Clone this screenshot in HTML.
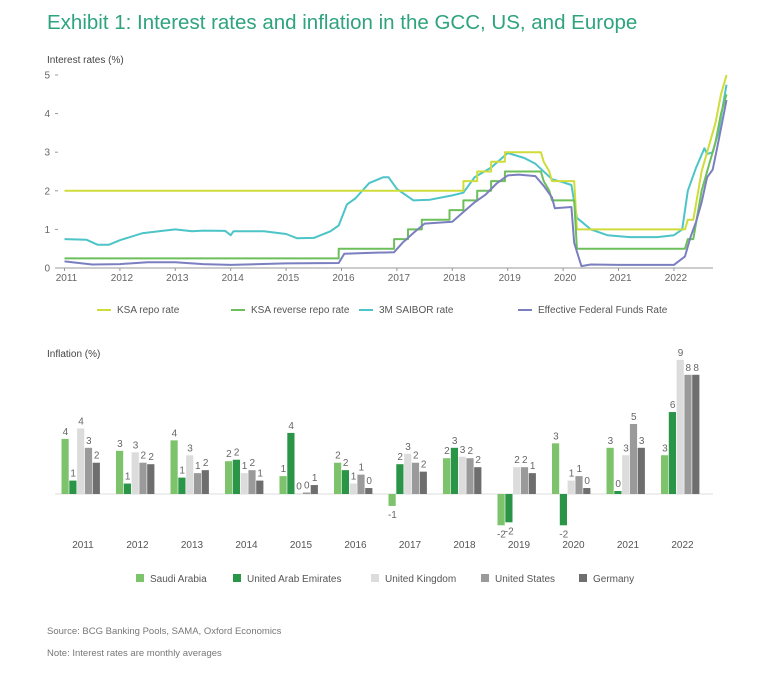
<!DOCTYPE html>
<html><head><meta charset="utf-8">
<style>
body{margin:0;background:#fff;width:768px;height:677px;overflow:hidden;font-family:"Liberation Sans",sans-serif;}
svg{position:absolute;left:0;top:0}
</style></head>
<body>
<svg width="768" height="677">
<text x="47" y="29" font-size="20.5" fill="#2ea37e">Exhibit 1: Interest rates and inflation in the GCC, US, and Europe</text>
<text x="47" y="63" font-size="10" fill="#444">Interest rates (%)</text>
<g id="topg"></g>
<g font-size="10" fill="#555">
<line x1="97" y1="310" x2="111" y2="310" stroke="#cfdc3a" stroke-width="2"/><text x="117" y="313">KSA repo rate</text>
<line x1="231" y1="310" x2="245" y2="310" stroke="#6cbf5a" stroke-width="2"/><text x="251" y="313">KSA reverse repo rate</text>
<line x1="359" y1="310" x2="373" y2="310" stroke="#4cc4c8" stroke-width="2"/><text x="379" y="313">3M SAIBOR rate</text>
<line x1="518" y1="310" x2="532" y2="310" stroke="#7b7fc0" stroke-width="2"/><text x="538" y="313">Effective Federal Funds Rate</text>
</g>
<text x="47" y="357" font-size="10" fill="#444">Inflation (%)</text>
<g id="bot"></g>
<g font-size="10" fill="#555">
<rect x="136" y="574" width="8" height="8" fill="#7dc36b"/><text x="150" y="582">Saudi Arabia</text>
<rect x="233" y="574" width="8" height="8" fill="#2a9447"/><text x="247" y="582">United Arab Emirates</text>
<rect x="371" y="574" width="8" height="8" fill="#dcdcdc"/><text x="385" y="582">United Kingdom</text>
<rect x="481" y="574" width="8" height="8" fill="#9a9a9a"/><text x="495" y="582">United States</text>
<rect x="579" y="574" width="8" height="8" fill="#6e6e6e"/><text x="593" y="582">Germany</text>
</g>
<text x="47" y="634" font-size="9.5" fill="#777">Source: BCG Banking Pools, SAMA, Oxford Economics</text>
<text x="47" y="656" font-size="9.5" fill="#777">Note: Interest rates are monthly averages</text>
</svg>
<script>
// ---- interest rate data ----
const repoT=[2011,2018.2,2018.2,2018.45,2018.45,2018.7,2018.7,2018.95,2018.95,2019.6,2019.65,2019.75,2019.8,2020.2,2020.22,2020.25,2022.2,2022.25,2022.35,2022.5,2022.6,2022.75,2022.85,2022.95];
const repoV=[2,2,2.25,2.25,2.5,2.5,2.75,2.75,3,3,2.75,2.5,2.25,2.25,1.75,1,1,1.25,1.25,2.5,3,3.75,4.5,5];
const revT=[2011,2015.95,2015.95,2016.95,2016.95,2017.2,2017.2,2017.45,2017.45,2017.95,2017.95,2018.2,2018.2,2018.45,2018.45,2018.7,2018.7,2018.95,2018.95,2019.6,2019.65,2019.75,2019.8,2020.2,2020.25,2022.2,2022.25,2022.35,2022.5,2022.6,2022.75,2022.85,2022.95];
const revV=[0.25,0.25,0.5,0.5,0.75,0.75,1,1,1.25,1.25,1.5,1.5,1.75,1.75,2,2,2.25,2.25,2.5,2.5,2.25,2,1.75,1.75,0.5,0.5,0.75,0.75,2,2.5,3.25,4,4.5];
const saiT=[2011,2011.4,2011.6,2011.8,2012,2012.4,2012.8,2013,2013.3,2013.5,2013.9,2014,2014.05,2014.6,2015,2015.2,2015.5,2015.8,2015.95,2016.1,2016.25,2016.5,2016.75,2016.85,2017,2017.15,2017.3,2017.6,2018,2018.2,2018.4,2018.7,2019,2019.3,2019.5,2019.8,2020,2020.15,2020.25,2020.5,2020.8,2021.2,2021.7,2022.0,2022.15,2022.25,2022.4,2022.55,2022.6,2022.7,2022.8,2022.95];
const saiV=[0.75,0.73,0.6,0.6,0.72,0.9,0.97,1.0,0.95,0.97,0.96,0.85,0.95,0.95,0.88,0.77,0.78,0.95,1.1,1.65,1.8,2.2,2.35,2.35,2.05,1.9,1.75,1.77,1.88,1.95,2.35,2.6,2.98,2.85,2.7,2.3,2.22,2.15,1.3,1.0,0.85,0.8,0.8,0.85,1.0,2.0,2.6,3.1,2.95,3.0,3.5,4.75];
const fedT=[2011,2011.5,2012,2012.5,2013,2013.5,2014,2015,2015.95,2016.05,2016.5,2016.95,2017.1,2017.3,2017.5,2018,2018.2,2018.4,2018.6,2018.8,2019,2019.2,2019.5,2019.65,2019.8,2019.85,2020.15,2020.2,2020.33,2020.5,2021,2021.5,2022,2022.2,2022.3,2022.4,2022.5,2022.6,2022.7,2022.8,2022.95];
const fedV=[0.17,0.09,0.1,0.15,0.15,0.1,0.08,0.12,0.13,0.37,0.39,0.41,0.65,0.91,1.15,1.2,1.45,1.7,1.9,2.19,2.4,2.42,2.38,2.13,1.83,1.55,1.58,0.65,0.05,0.09,0.08,0.08,0.08,0.3,0.8,1.2,1.7,2.35,2.55,3.25,4.35];
const yTicks=[0,1,2,3,4,5];
const years=[2011,2012,2013,2014,2015,2016,2017,2018,2019,2020,2021,2022];
// ---- inflation data ----
const countries=["Saudi Arabia","United Arab Emirates","United Kingdom","United States","Germany"];
const saudi=[3.7,2.9,3.6,2.2,1.2,2.1,-0.8,2.4,-2.1,3.4,3.1,2.6];
const uae=[0.9,0.7,1.1,2.3,4.1,1.6,2.0,3.1,-1.9,-2.1,0.2,5.5];
const uk=[4.4,2.8,2.6,1.4,0.05,0.7,2.7,2.5,1.8,0.9,2.6,9.0];
const us=[3.1,2.1,1.4,1.6,0.1,1.3,2.1,2.4,1.8,1.2,4.7,8.0];
const de=[2.1,2.0,1.6,0.9,0.6,0.4,1.5,1.8,1.4,0.4,3.1,8.0];
const colors=["#7dc36b","#2a9447","#dcdcdc","#9a9a9a","#6e6e6e"];
const NS="http://www.w3.org/2000/svg";
function mk(tag,attrs,parent){const e=document.createElementNS(NS,tag);for(const k in attrs)e.setAttribute(k,attrs[k]);parent.appendChild(e);return e;}
const topG=document.getElementById('topg');
const X=t=>64.5+55.4*(t-2011);
const Y=v=>268-38.6*v;
mk('line',{x1:58,y1:268,x2:713,y2:268,stroke:'#999','stroke-width':1},topG);
yTicks.forEach(v=>{const t=mk('text',{x:50,y:Y(v)+3.5,'font-size':10,fill:'#666','text-anchor':'end'},topG);t.textContent=v;


mk('line',{x1:55,x2:58,y1:Y(v),y2:Y(v),stroke:'#999'},topG);});
years.forEach(y=>{const t=mk('text',{x:X(y)+2,y:281,'font-size':10,fill:'#666','text-anchor':'middle'},topG);t.textContent=y;


mk('line',{x1:X(y),x2:X(y),y1:268,y2:271,stroke:'#999'},topG);});
function line(T,V,c,name){const d=T.map((t,i)=>(i?'L':'M')+X(t).toFixed(1)+','+Y(V[i]).toFixed(1)).join('');
const p=mk('path',{d:d,fill:'none',stroke:c,'stroke-width':2,'stroke-linejoin':'round'},topG);

}
line(saiT,saiV,'#4cc4c8','saibor-line');
line(repoT,repoV,'#cfdc3a','repo-line');
line(revT,revV,'#6cbf5a','reverse-repo-line');
line(fedT,fedV,'#7b7fc0','fed-funds-line');
// bars
const bot=document.getElementById('bot');
const base=494, k=14.9, gw=54.5, bw=7.8;
mk('line',{x1:55,x2:713,y1:base,y2:base,stroke:'#ddd'},bot);
const series=[saudi,uae,uk,us,de];
years.forEach((y,i)=>{const cx=81+gw*i;
const t=mk('text',{x:cx+2,y:548,'font-size':10,fill:'#555','text-anchor':'middle'},bot);t.textContent=y;


series.forEach((s,j)=>{const v=s[i];const x=cx-19.5+j*bw;const h=Math.abs(v)*k;
const r=mk('rect',{x:x,y:v>=0?base-h:base,width:bw-0.6,height:Math.max(h,0.8),fill:colors[j]},bot);


const lb=mk('text',{x:x+bw/2,y:v>=0?base-h-4:base+h+12,'font-size':10,fill:'#666','text-anchor':'middle'},bot);
lb.textContent=Math.round(v)===0?0:Math.round(v);

});});
</script>
</body></html>
